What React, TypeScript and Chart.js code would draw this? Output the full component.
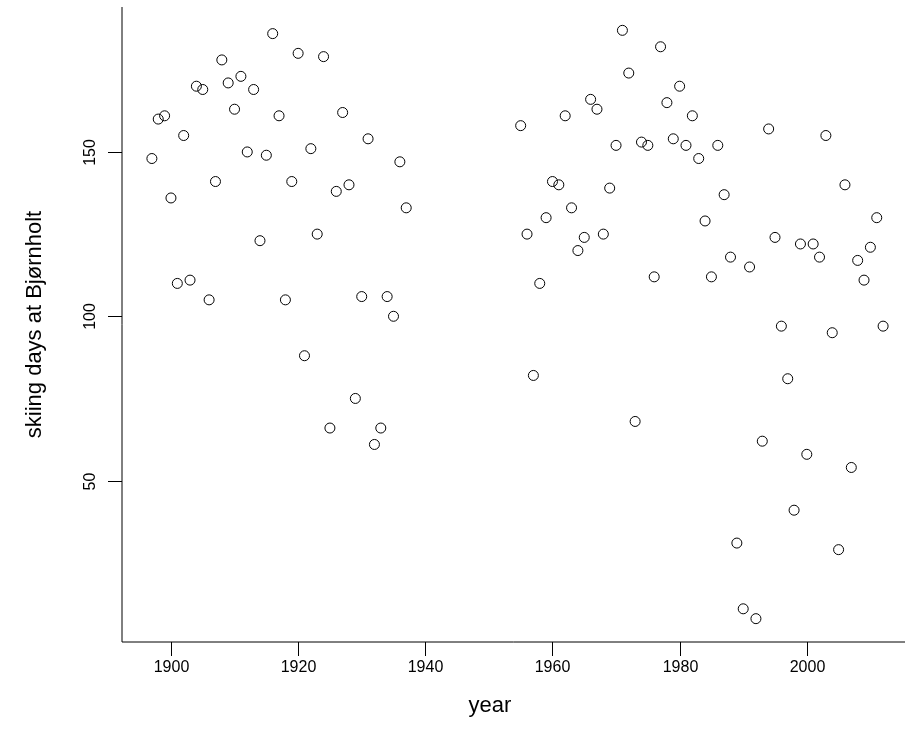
import { useEffect, useRef } from "react"
import { Chart, registerables } from "chart.js"

Chart.register(...registerables)

const years = [
  1897, 1898, 1899, 1900, 1901, 1902, 1903, 1904, 1905, 1906, 1907, 1908, 1909, 1910,
  1911, 1912, 1913, 1914, 1915, 1916, 1917, 1918, 1919, 1920, 1921, 1922, 1923, 1924,
  1925, 1926, 1927, 1928, 1929, 1930, 1931, 1932, 1933, 1934, 1935, 1936, 1937,
  1955, 1956, 1957, 1958, 1959, 1960, 1961, 1962, 1963, 1964, 1965, 1966, 1967, 1968,
  1969, 1970, 1971, 1972, 1973, 1974, 1975, 1976, 1977, 1978, 1979, 1980, 1981, 1982,
  1983, 1984, 1985, 1986, 1987, 1988, 1989, 1990, 1991, 1992, 1993, 1994, 1995, 1996,
  1997, 1998, 1999, 2000, 2001, 2002, 2003, 2004, 2005, 2006, 2007, 2008, 2009, 2010,
  2011, 2012,
]
const skiingDays = [
  148, 160, 161, 136, 110, 155, 111, 170, 169, 105, 141, 178, 171, 163,
  173, 150, 169, 123, 149, 186, 161, 105, 141, 180, 88, 151, 125, 179,
  66, 138, 162, 140, 75, 106, 154, 61, 66, 106, 100, 147, 133,
  158, 125, 82, 110, 130, 141, 140, 161, 133, 120, 124, 166, 163, 125,
  139, 152, 187, 174, 68, 153, 152, 112, 182, 165, 154, 170, 152, 161,
  148, 129, 112, 152, 137, 118, 31, 11, 115, 8, 62, 157, 124, 97,
  81, 41, 122, 58, 122, 118, 155, 95, 29, 140, 54, 117, 111, 121,
  130, 97,
]
const xTicks = [1900, 1920, 1940, 1960, 1980, 2000]
const yTicks = [50, 100, 150]

const FONT = "'Liberation Sans', Arial, sans-serif"

const rAxes = {
  id: "rAxes",
  afterDraw(chart: Chart) {
    const { ctx, chartArea: a } = chart
    const x = chart.scales.x
    const y = chart.scales.y
    ctx.save()
    ctx.strokeStyle = "#000"
    ctx.fillStyle = "#000"
    ctx.lineWidth = 1
    ctx.beginPath()
    ctx.moveTo(a.left, a.top)
    ctx.lineTo(a.left, a.bottom)
    ctx.lineTo(chart.width, a.bottom)
    ctx.stroke()
    ctx.font = `16px ${FONT}`
    ctx.textAlign = "center"
    ctx.textBaseline = "middle"
    xTicks.forEach((t) => {
      const px = Math.round(x.getPixelForValue(t)) + 0.5
      ctx.beginPath()
      ctx.moveTo(px, a.bottom)
      ctx.lineTo(px, a.bottom + 14)
      ctx.stroke()
      ctx.fillText(String(t), px, a.bottom + 26)
    })
    yTicks.forEach((t) => {
      const py = Math.round(y.getPixelForValue(t)) + 0.5
      ctx.beginPath()
      ctx.moveTo(a.left, py)
      ctx.lineTo(a.left - 14, py)
      ctx.stroke()
      ctx.save()
      ctx.translate(a.left - 31, py)
      ctx.rotate(-Math.PI / 2)
      ctx.fillText(String(t), 0, 0)
      ctx.restore()
    })
    ctx.font = `22px ${FONT}`
    ctx.fillText("year", 490, a.bottom + 64)
    ctx.save()
    ctx.translate(35, (a.top + a.bottom) / 2)
    ctx.rotate(-Math.PI / 2)
    ctx.fillText("skiing days at Bjørnholt", 0, 0)
    ctx.restore()
    ctx.restore()
  },
}

export default function App() {
  const chartRef = useRef<HTMLCanvasElement>(null)
  const chartInstance = useRef<Chart | null>(null)

  useEffect(() => {
    document.body.style.margin = "0"
    if (!chartRef.current) return
    if (chartInstance.current) chartInstance.current.destroy()
    const ctx = chartRef.current.getContext("2d")
    if (!ctx) return

    chartInstance.current = new Chart(ctx, {
      type: "scatter",
      data: {
        datasets: [
          {
            data: years.map((yr, i) => ({ x: yr, y: skiingDays[i] })),
            pointRadius: 5,
            pointBorderWidth: 1,
            pointBorderColor: "#000",
            pointBackgroundColor: "rgba(0,0,0,0)",
          },
        ],
      },
      options: {
        animation: false,
        responsive: false,
        layout: { padding: { left: 122, top: 7, right: 0, bottom: 102 } },
        scales: {
          x: { type: "linear", display: false, min: 1892.3, max: 2014.5 },
          y: { type: "linear", display: false, min: 0.9, max: 194.1 },
        },
        plugins: { legend: { display: false }, tooltip: { enabled: false } },
      },
      plugins: [rAxes],
    })

    return () => {
      if (chartInstance.current) chartInstance.current.destroy()
    }
  }, [])

  return <canvas ref={chartRef} width={905} height={744} />
}
